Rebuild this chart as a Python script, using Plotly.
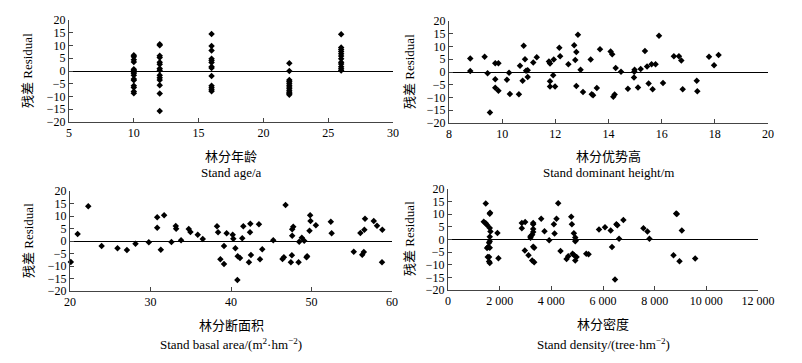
import plotly.graph_objects as go

# ---- data ----
age_x = [10]*15 + [12]*14 + [16]*13 + [22]*12 + [26]*12
age_res = [6.2, 5.6, 4.4, 3.5, 0.7, 0.2, -0.4, -0.9, -1.7, -3.1, -3.6, -5.8, -6.5, -8.0, -8.7,
           10.5, 10.1, 6.0, 5.3, 3.4, 2.6, 1.0, 0.3, -1.7, -2.6, -3.5, -5.6, -8.8, -15.7,
           14.5, 9.8, 8.0, 4.8, 4.1, 3.3, 1.7, 1.2, -2.0, -5.8, -6.6, -7.4, -7.9,
           3.0, 0.0, -3.5, -4.1, -4.8, -5.6, -6.3, -7.0, -7.7, -8.3, -8.8, -9.3,
           14.4, 9.2, 8.4, 7.6, 6.8, 5.9, 4.8, 3.4, 2.7, 1.7, 0.9, 0.2]

height_x = [8.80, 8.80, 9.34, 9.45, 9.54, 9.74, 9.86, 9.74, 9.74, 9.86, 10.18, 10.26, 10.29, 10.63,
            10.67, 10.77, 10.81, 10.86, 10.90, 10.96, 10.96, 11.17, 11.30, 11.76, 11.80, 11.80, 11.80,
            11.92, 11.94, 11.99, 12.15, 12.18, 12.49, 12.71, 12.75, 12.79, 12.79, 12.85, 12.95, 13.04,
            13.33, 13.37, 13.42, 13.56, 13.68, 14.08, 14.14, 14.18, 14.23, 14.27, 14.47, 14.73, 14.96,
            14.97, 14.98, 15.11, 15.21, 15.37, 15.45, 15.51, 15.62, 15.77, 15.66, 15.90, 16.05, 16.46,
            16.65, 16.74, 16.79, 17.32, 17.34, 17.78, 17.97, 18.14]
height_res = [5.3, 0.4, 6.0, -0.5, -15.9, 3.4, 3.4, -2.8, -6.2, -7.4, -3.0, -0.3, -8.6, -8.7,
              2.5, -3.4, 10.3, 5.0, 0.5, 0.7, -2.0, 3.7, 5.8, 4.1, 3.3, -3.6, -5.7,
              -1.3, 4.9, -5.7, 9.5, 6.2, 3.0, 10.5, 4.7, 7.8, -5.5, 14.6, 0.9, -7.8,
              4.9, -8.7, -9.1, -6.3, 8.9, 8.0, 7.0, -9.7, -8.8, 1.6, 0.1, -6.6, -2.2,
              0.1, 0.9, -6.1, 1.2, 8.2, 2.2, -4.5, 3.0, 3.0, -6.8, 14.2, -4.3, 6.2,
              6.2, 4.5, -6.8, -3.4, -7.5, 6.0, 2.6, 6.7]

basal_x = [20.1, 20.95, 22.27, 23.93, 25.9, 27.07, 28.14, 29.79, 30.83, 30.83, 31.28, 31.69, 32.6,
           33.14, 33.18, 33.8, 34.75, 34.96, 35.87, 36.49, 38.26, 38.39, 38.68, 39.13, 39.13, 39.46,
           40.21, 40.29, 40.54, 40.79, 40.83, 41.12, 41.4, 41.53, 42.23, 42.36, 42.4, 42.48, 43.47,
           43.6, 43.88, 45.25, 46.4, 46.57, 46.78, 47.44, 47.56, 47.6, 47.6, 47.73, 48.39, 48.47,
           48.8, 49.09, 49.38, 49.46, 49.75, 49.83, 49.88, 50.54, 52.4, 52.5, 55.25, 56.07, 56.3,
           56.5, 56.57, 56.65, 57.73, 58.14, 58.76, 58.8]
basal_res = [-8.4, 2.8, 13.9, -2.0, -2.9, -3.6, -1.1, -0.5, 9.5, 5.3, -3.5, 10.3, -0.4,
             6.0, 4.9, 0.3, 4.8, 3.6, 2.5, 0.8, 5.9, 3.5, -7.3, -2.0, -9.2, 3.1,
             2.5, 0.9, -2.9, -15.6, -6.1, -6.8, 1.1, 5.9, -8.5, 3.5, 6.9, -5.6, 6.7,
             -7.3, -3.3, 0.3, -7.2, -6.5, 14.4, -8.5, -5.7, 2.1, 4.7, 5.7, -8.5, -0.3,
             1.3, 0.1, -6.5, -6.1, 4.1, 10.3, 8.0, 6.3, 7.7, 3.1, -4.3, 3.2, -5.5,
             -4.4, 4.5, 8.9, 8.0, 6.1, -8.5, 4.5]

density_x = [1461, 1384, 1461, 1513, 1616, 1629, 1616, 1642, 1616, 1616, 1590, 1552, 1513, 1616,
             1539, 1590, 1590, 1616, 1914, 1953, 2858, 2858, 2987, 2974, 3116, 3194, 3194, 3258,
             3297, 3297, 3297, 3297, 3297, 3336, 3258, 3336, 3607, 3736, 3917, 4098, 4124, 4201,
             4266, 4356, 4589, 4654, 4770, 4796, 4873, 4822, 4873, 4925, 4951, 4925, 4977, 4925,
             5352, 5442, 5845, 6078, 6297, 6349, 6465, 6517, 6556, 6621, 6789, 7565, 7720, 7798,
             8729, 8832, 8858, 8961, 9052, 9569]
density_res = [14.3, 7.0, 6.4, 5.7, 10.2, 10.6, 4.6, 3.2, 1.1, -0.7, -1.3, -3.0, -3.4, -3.3,
               -6.9, -6.9, -8.7, -9.3, 2.6, -7.4, 6.5, 4.5, 6.9, -4.4, -6.2, 0.7, 1.3, 1.9,
               6.5, 6.0, 4.2, 3.0, -2.9, -3.3, -8.3, -9.0, 8.2, 3.3, -0.3, 6.0, 2.4, 8.2,
               14.4, -4.6, -7.7, -6.6, 9.0, 6.0, 2.5, -5.6, -6.1, 0.8, -0.3, -0.7, -6.9, -8.3,
               -5.6, -5.8, 4.0, 4.9, 3.6, -3.0, -15.8, 6.0, 5.6, 0.3, 7.7, 4.5, 3.2, 0.3,
               -6.2, 10.3, 10.1, -8.6, 3.6, -7.5]

y_title = "残差 Residual"
x_titles_cn = ["林分年龄", "林分优势高", "林分断面积", "林分密度"]
x_titles_en = ["Stand age/a", "Stand dominant height/m",
               "Stand basal area/(m<sup>2</sup>·hm<sup>−2</sup>)",
               "Stand density/(tree·hm<sup>−2</sup>)"]
x_ranges = [[5, 30], [8, 20], [20, 60], [0, 12000]]
x_dticks = [5, 2, 10, 2000]

FONT = "Liberation Serif, Times New Roman, Noto Sans CJK SC, serif"

fig = go.Figure()
datasets = [(age_x, age_res), (height_x, height_res), (basal_x, basal_res), (density_x, density_res)]
for i, (xs, ys) in enumerate(datasets):
    fig.add_trace(go.Scatter(
        x=xs, y=ys, mode="markers",
        marker=dict(symbol="diamond", size=5, color="black"),
        xaxis=f"x{i+1 if i else ''}", yaxis=f"y{i+1 if i else ''}",
        showlegend=False, cliponaxis=False))

# page body has an 8px margin: work in window pixels, convert to figure pixels
OFF = 8
W, H = 802 - 2 * OFF, 363 - 2 * OFF
# panel geometry in window pixels (left, right, top, bottom)
panels = [(69, 393, 20, 122), (449, 768, 21, 123), (70, 392, 191, 291), (448, 758, 189, 290)]
ytitle_pos = [(28, 71), (409, 72), (28, 241), (409, 239)]
xtitle_cn_y = [155, 155, 324, 323]
xtitle_en_y = [172, 172, 344, 344]


def px(x):
    return (x - OFF) / W


def py(y):
    return 1 - (y - OFF) / H


layout = dict(
    template="none",
    width=W, height=H, margin=dict(l=0, r=0, t=0, b=0, autoexpand=False),
    paper_bgcolor="white", plot_bgcolor="white",
    font=dict(family=FONT, size=12, color="black"),
    separators=". ",
)
annotations = []
for i, (l, r, t, b) in enumerate(panels):
    sfx = str(i + 1) if i else ""
    layout[f"xaxis{sfx}"] = dict(
        domain=[px(l), px(r)], range=x_ranges[i], dtick=x_dticks[i], tick0=x_ranges[i][0],
        showline=True, linecolor="#444", linewidth=1, ticks="inside", ticklen=4,
        tickcolor="#444", showgrid=False, zeroline=False, anchor=f"y{sfx}",
        automargin=False, tickfont=dict(size=12), tickformat=",d" if i == 3 else None,
    )
    layout[f"yaxis{sfx}"] = dict(
        domain=[py(b), py(t)], range=[-20, 20], dtick=5,
        showline=True, linecolor="#444", linewidth=1, ticks="inside", ticklen=4,
        tickcolor="#444", showgrid=False, zeroline=True, zerolinecolor="black",
        zerolinewidth=1.3, anchor=f"x{sfx}", automargin=False, tickfont=dict(size=12),
    )
    cx = (l + r) / 2
    common = dict(xref="paper", yref="paper", showarrow=False,
                  xanchor="center", yanchor="middle")
    annotations.append(dict(text=x_titles_cn[i], x=px(cx), y=py(xtitle_cn_y[i]),
                            font=dict(size=13, family="Noto Sans CJK SC"), **common))
    annotations.append(dict(text=x_titles_en[i], x=px(cx), y=py(xtitle_en_y[i]),
                            font=dict(size=13), **common))
    yx, yy = ytitle_pos[i]
    annotations.append(dict(text=y_title, x=px(yx), y=py(yy), textangle=-90,
                            font=dict(size=13), **common))
layout["annotations"] = annotations
fig.update_layout(**layout)
fig.write_html("out.html")
